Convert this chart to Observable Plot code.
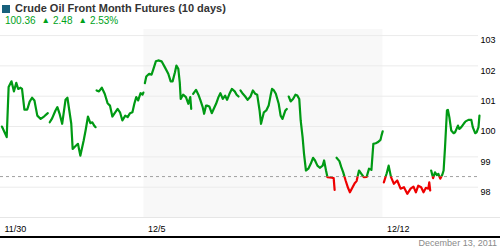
<!DOCTYPE html>
<html><head><meta charset="utf-8">
<script src="https://cdn.jsdelivr.net/npm/d3@7"></script>
<script src="https://cdn.jsdelivr.net/npm/@observablehq/plot@0.6"></script>
<style>
html,body{margin:0;padding:0;background:#fff;}
body{width:500px;height:250px;overflow:hidden;font-family:"Liberation Sans",Arial,sans-serif;position:relative;}
#head{position:relative;height:29px;}
#sq{position:absolute;left:2px;top:5px;width:8px;height:8px;background:#17607c;}
#title{position:absolute;left:15px;top:2px;font-size:11px;font-weight:bold;color:#333;white-space:nowrap;}
#sub{position:absolute;left:5px;top:15px;font-size:10px;color:#00a21a;white-space:nowrap;}
#sub .tri{font-size:8.5px;position:relative;top:-1px;margin:0 3px 0 6px;}
#chart svg{display:block;}
#cap{border-top:2px solid #000;font-size:9px;color:#8a8a8a;text-align:right;padding-right:3px;line-height:11px;}
</style></head><body>
<div id="head"><div id="sq"></div><div id="title"></div><div id="sub"></div></div>
<div id="chart"></div>
<div id="cap"></div>
<script>
// ---- text ----
const titleText = "Crude Oil Front Month Futures (10 days)";
const lastPrice = "100.36";
const changeAbs = "2.48";
const changePct = "2.53%";
const dateCaption = "December 13, 2011";

// ---- axis labels ----
const xLabelText = ["11/30", "12/5", "12/12"];
const xLabelDay = [0, 3, 8];           // trading-day index of each label
const yTicks = [98, 99, 100, 101, 102, 103];
const highlightDays = [3, 8];          // shaded week 12/5 – 12/12
const refPrice = 98.35;                // dashed reference level

// ---- series: time in trading days since 11/30 open, price ----
const time = [
  0.03,0.13,0.17,0.23,0.28,0.33,0.37,0.42,0.45,0.50,0.56,0.61,0.66,0.71,0.77,0.84,0.91,0.96,0.99,
  1.03,1.08,1.15,1.19,1.24,1.29,1.36,1.40,1.48,1.51,1.56,1.62,1.67,1.74,1.78,1.83,1.88,1.92,1.96,1.99,
  2.01,2.06,2.12,2.18,2.24,2.29,2.34,2.40,2.45,2.50,2.55,2.61,2.66,2.71,2.76,2.80,2.84,2.88,2.93,2.97,2.99,
  3.02,3.05,3.11,3.16,3.19,3.25,3.30,3.37,3.44,3.51,3.56,3.60,3.65,3.68,3.72,3.75,3.77,3.82,3.88,3.93,3.97,3.99,
  4.03,4.09,4.14,4.18,4.23,4.26,4.30,4.32,4.37,4.42,4.46,4.51,4.56,4.60,4.65,4.70,4.74,4.79,4.84,4.90,4.94,4.98,
  5.02,5.07,5.12,5.17,5.23,5.28,5.33,5.37,5.42,5.45,5.51,5.56,5.61,5.65,5.68,5.72,5.76,5.82,5.86,5.90,5.96,5.99,
  6.03,6.07,6.12,6.17,6.21,6.25,6.28,6.32,6.35,6.39,6.44,6.49,6.54,6.58,6.63,6.68,6.74,6.77,6.81,6.84,6.89,6.93,6.97,6.99,
  7.03,7.09,7.13,7.17,7.22,7.27,7.31,7.36,7.41,7.45,7.50,7.55,7.60,7.66,7.71,7.76,7.80,7.85,7.89,7.95,7.97,7.995,
  8.02,8.08,8.12,8.17,8.23,8.30,8.37,8.44,8.51,8.58,8.64,8.69,8.74,8.80,8.85,8.90,8.95,8.97,8.99,
  9.01,9.05,9.09,9.13,9.16,9.20,9.24,9.27,9.30,9.34,9.36,9.39,9.43,9.48,9.51,9.57,9.60,9.64,9.69,9.73,9.79,9.85,9.88,9.93,9.96,10.00,10.02
];
const price = [
  100.00,99.65,101.30,101.49,101.16,101.44,101.24,101.28,101.24,100.56,100.56,100.82,100.95,100.86,100.36,100.25,100.33,100.40,100.44,
  100.14,100.27,100.53,100.64,100.40,100.09,100.88,100.95,100.10,99.26,99.34,99.43,99.04,99.54,99.87,100.33,100.11,100.14,100.03,99.98,
  101.19,101.16,101.28,101.08,100.77,100.69,100.33,100.47,100.58,100.47,100.20,100.36,100.31,100.44,100.47,100.75,100.97,100.86,101.10,101.05,101.12,
  101.43,101.65,101.74,101.71,101.85,102.15,102.18,102.15,101.95,101.74,101.49,101.49,101.79,102.01,101.90,101.46,100.91,101.05,100.97,100.75,100.97,100.58,
  101.08,101.21,101.05,100.88,100.64,100.42,100.69,100.69,100.66,100.44,100.58,100.75,100.97,101.10,100.91,101.02,100.88,101.08,101.24,101.16,101.05,100.99,
  101.19,101.08,100.99,100.88,100.99,101.19,101.08,101.05,100.53,100.09,100.47,100.53,100.69,101.02,101.24,101.19,101.08,100.75,100.36,100.25,100.53,100.58,
  100.99,100.83,100.91,101.05,101.02,100.91,100.20,99.65,99.10,98.55,98.61,98.77,98.97,98.88,98.71,98.64,98.71,98.88,98.55,98.33,98.32,98.31,98.30,97.91,
  98.97,98.86,98.66,98.49,98.22,97.98,97.83,97.98,98.13,98.20,98.55,98.44,98.33,98.34,98.61,98.57,99.43,99.45,99.48,99.56,99.70,99.84,
  98.16,98.46,98.71,98.33,98.11,98.22,97.95,98.00,97.78,97.95,98.02,97.83,98.05,98.00,97.83,97.98,97.95,98.16,97.89,
  98.55,98.30,98.49,98.40,98.44,98.28,98.40,98.55,99.32,100.53,100.55,100.31,99.87,99.78,99.81,100.03,99.92,99.98,100.09,100.17,100.22,100.22,99.98,99.78,99.81,99.98,100.36
];

// ---- header ----
document.getElementById("title").textContent = titleText;
document.getElementById("sub").innerHTML =
  lastPrice + '<span class="tri">\u25B2</span>' + changeAbs + '<span class="tri">\u25B2</span>' + changePct;
document.getElementById("cap").textContent = dateCaption;

const data = time.map((t, i) => ({t, p: price[i], s: Math.min(9, Math.floor(t))}));
const xLabels = xLabelText.map((text, i) => ({text, d: xLabelDay[i]}));
const GREEN = "#009a14", RED = "#ee0000";

const plot = Plot.plot({
  width: 500,
  height: 207,
  marginLeft: 0,
  marginRight: 22,
  marginTop: 0,
  marginBottom: 19,
  style: {fontFamily: "'Liberation Sans', Arial, sans-serif", background: "#fff", display: "block"},
  x: {domain: [0, 10], axis: null},
  y: {domain: [97, 103.2], axis: null},
  marks: [
    Plot.rect([{x1: highlightDays[0], x2: highlightDays[1]}], {x1: "x1", x2: "x2", fill: "#f8f8f8"}),
    Plot.ruleY(yTicks, {stroke: "#ebebeb", strokeWidth: 1}),
    Plot.ruleY([97], {stroke: "#e6e6e6", strokeWidth: 1, insetRight: -22}),
    Plot.ruleY([refPrice], {stroke: "#a0a0a0", strokeWidth: 1, strokeDasharray: "3,3"}),
    Plot.line(data, {x: "t", y: "p", z: "s", stroke: GREEN, strokeWidth: 2.2, strokeLinejoin: "round"}),
    Plot.line(data, {x: "t", y: "p", z: "s", stroke: RED, strokeWidth: 2.2, strokeLinejoin: "round"}),
    Plot.text(yTicks, {x: 10, y: d => d, text: d => String(d), dx: 2, dy: 5, textAnchor: "start", fontSize: 9, fill: "#000"}),
    Plot.text(xLabels, {x: "d", y: 97, text: "text", dx: 4, dy: 12, textAnchor: "start", fontSize: 9, fill: "#000"})
  ]
});

document.getElementById("chart").appendChild(plot);

// colour the series green above / red below the reference level
const ys = plot.scale("y");
const yRef = ys.apply ? ys.apply(refPrice) : (ys.range[0] + (refPrice - ys.domain[0]) / (ys.domain[1] - ys.domain[0]) * (ys.range[1] - ys.range[0]));
const svg = d3.select(plot);
const defs = svg.append("defs");
defs.append("clipPath").attr("id", "clipUp").append("rect")
  .attr("x", -20).attr("y", -20).attr("width", 560).attr("height", yRef + 20);
defs.append("clipPath").attr("id", "clipDown").append("rect")
  .attr("x", -20).attr("y", yRef).attr("width", 560).attr("height", 400);
const lines = svg.selectAll('g[aria-label="line"]');
lines.filter((d, i) => i === 0).attr("clip-path", "url(#clipUp)");
lines.filter((d, i) => i === 1).attr("clip-path", "url(#clipDown)");
</script>
</body></html>
